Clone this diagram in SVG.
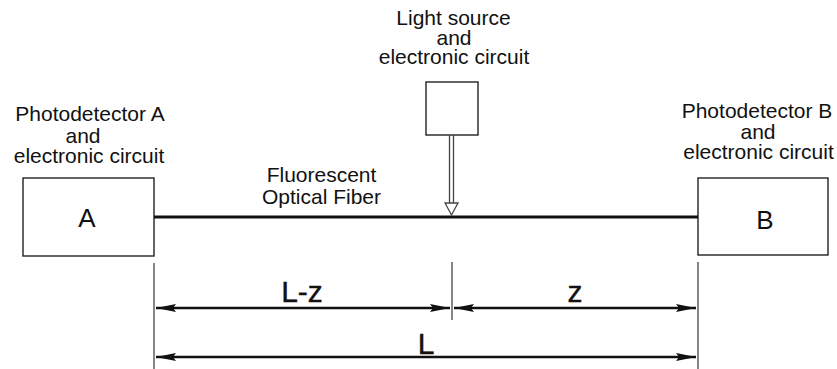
<svg xmlns="http://www.w3.org/2000/svg" width="837" height="369" viewBox="0 0 837 369">
<style>
text{font-family:"Liberation Sans",Arial,sans-serif;fill:#111;text-anchor:middle}
.lbl{font-size:21px}
.big{font-size:26px}
.dim{font-size:30px;stroke:#111;stroke-width:0.4}
.box{fill:#fff;stroke:#222;stroke-width:1.4}
.thin{stroke:#444;stroke-width:1.3;fill:none}
.dl{stroke:#111;stroke-width:2.6;fill:none}
</style>
<defs>
<marker id="ah" viewBox="0 0 20 8" refX="20" refY="4" markerWidth="20" markerHeight="8" markerUnits="userSpaceOnUse" orient="auto-start-reverse">
<path d="M0,0 L20,4 L0,8 L3,4 Z" fill="#111"/>
</marker>
</defs>
<rect width="837" height="369" fill="#fff"/>
<g id="nodeA">
<rect class="box" x="23" y="178" width="131" height="78"/>
<text class="big" x="87" y="227">A</text>
<text class="lbl" x="90" y="121">Photodetector A</text>
<text class="lbl" x="83" y="143">and</text>
<text class="lbl" x="89" y="163">electronic circuit</text>
</g>
<g id="nodeB">
<rect class="box" x="698" y="178" width="130" height="77"/>
<text class="big" x="765" y="229">B</text>
<text class="lbl" x="757" y="118">Photodetector B</text>
<text class="lbl" x="758" y="139">and</text>
<text class="lbl" x="758.5" y="159">electronic circuit</text>
</g>
<g id="source">
<rect class="box" x="426" y="82" width="52" height="53"/>
<text class="lbl" x="453.5" y="25">Light source</text>
<text class="lbl" x="454" y="45">and</text>
<text class="lbl" x="454" y="64">electronic circuit</text>
</g>
<g id="fiber">
<line x1="154" y1="217" x2="698" y2="217" stroke="#111" stroke-width="3"/>
<text class="lbl" x="321.5" y="182">Fluorescent</text>
<text class="lbl" x="321.5" y="204">Optical Fiber</text>
</g>
<g id="connectors">
<line class="thin" x1="449.5" y1="135" x2="449.5" y2="203"/>
<line class="thin" x1="453.5" y1="135" x2="453.5" y2="203"/>
<path d="M445,203 L458,203 L451.5,215 Z" fill="#fff" stroke="#444" stroke-width="1.3"/>
<line class="thin" x1="154" y1="263" x2="154" y2="369"/>
<line class="thin" x1="698" y1="262" x2="698" y2="369"/>
<line class="thin" x1="452" y1="262" x2="452" y2="320"/>
<line class="dl" x1="156" y1="308" x2="450" y2="308" marker-start="url(#ah)" marker-end="url(#ah)"/>
<line class="dl" x1="454" y1="308" x2="696" y2="308" marker-start="url(#ah)" marker-end="url(#ah)"/>
<line class="dl" x1="156" y1="357" x2="696" y2="357" marker-start="url(#ah)" marker-end="url(#ah)"/>
<text class="dim" x="302" y="302">L-z</text>
<text class="dim" x="575" y="302">z</text>
<text class="dim" x="426" y="354">L</text>
</g>
</svg>
